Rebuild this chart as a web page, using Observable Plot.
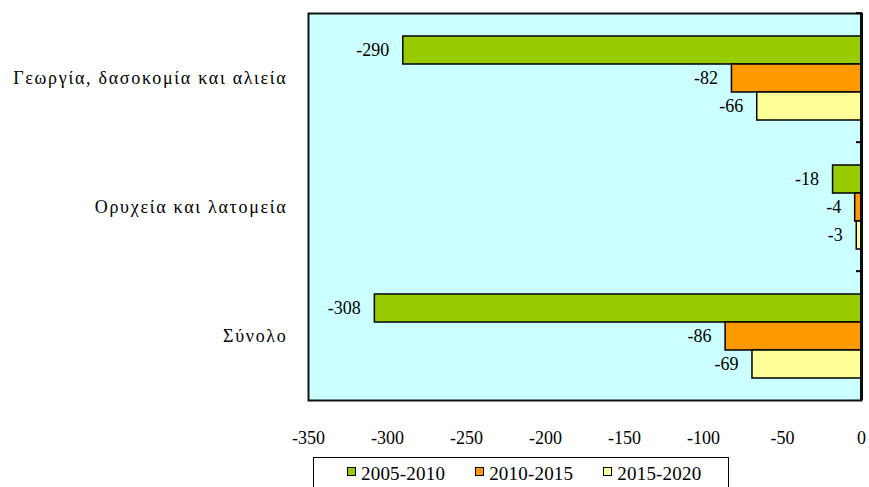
<!DOCTYPE html>
<html>
<head>
<meta charset="utf-8">
<script src="https://cdn.jsdelivr.net/npm/d3@7"></script>
<script src="https://cdn.jsdelivr.net/npm/@observablehq/plot@0.6"></script>
<style>
  html, body { margin: 0; padding: 0; background: #fff; overflow: hidden; }
  #wrap { position: relative; width: 869px; height: 487px; font-family: "Liberation Serif", "DejaVu Serif", serif; }
  #chart svg, #chart svg text { font-family: "Liberation Serif", "DejaVu Serif", serif !important; }
  #chart [aria-label="fy-axis tick label"] text { letter-spacing: 1.7px; }
  #legend {
    position: absolute; left: 313px; top: 457px; width: 416px; height: 40px;
    border: 1.5px solid #000; background: #fff; box-sizing: border-box;
    display: flex; align-items: flex-start; padding-top: 5px; padding-left: 33px;
    font-size: 19px; color: #000; white-space: nowrap;
  }
  .item { display: flex; align-items: center; margin-right: 30px; letter-spacing: 0.2px; flex-shrink: 0; white-space: nowrap; }
  .item:last-child { margin-right: 0; }
  .sw { width: 7px; height: 7px; border: 1.5px solid #000; margin-right: 5px; margin-top: -5px; flex-shrink: 0; }
</style>
</head>
<body>
<div id="wrap">
  <div id="chart"></div>
  <div id="legend"></div>
</div>
<script>
const categories = ["Γεωργία, δασοκομία και αλιεία", "Ορυχεία και λατομεία", "Σύνολο"];
const seriesNames = ["2005-2010", "2010-2015", "2015-2020"];
const seriesColors = ["#99cc00", "#ff9900", "#ffff99"];
const values2005_2010 = [-290, -18, -308];
const values2010_2015 = [-82, -4, -86];
const values2015_2020 = [-66, -3, -69];
const xTicks = [-350, -300, -250, -200, -150, -100, -50, 0];

const allValues = [values2005_2010, values2010_2015, values2015_2020];
const data = [];
categories.forEach((c, ci) => {
  seriesNames.forEach((s, si) => {
    data.push({category: c, series: s, value: allValues[si][ci]});
  });
});

const W = 869, H = 457, mT = 12, mB = 56;
const facetH = (H - mT - mB) / categories.length;

const chart = Plot.plot({
  width: W,
  height: H,
  marginLeft: 308,
  marginRight: 8,
  marginTop: mT,
  marginBottom: mB,
  style: {fontFamily: "'Liberation Serif', 'DejaVu Serif', serif", fontSize: "18px", color: "#000", background: "#fff"},
  x: {domain: [-350, 0], axis: null},
  y: {domain: seriesNames, paddingInner: 0, paddingOuter: 0.735, axis: null},
  fy: {domain: categories, padding: 0, axis: null},
  color: {domain: seriesNames, range: seriesColors},
  marks: [
    Plot.frame({fill: "#ccffff", facet: "super"}),
    Plot.barX(data, {x: "value", y: "series", fy: "category", fill: "series", stroke: "#000", strokeWidth: 1.5}),
    Plot.text(data, {x: "value", y: "series", fy: "category", text: d => String(d.value), textAnchor: "end", dx: -14, fill: "#000", fontSize: 18}),
    Plot.ruleX([0], {stroke: "#000", strokeWidth: 3}),
    Plot.frame({stroke: "#111", strokeWidth: 2, facet: "super"}),
    Plot.axisFy({anchor: "right", tickSize: -6, tickFormat: () => "", dy: -facetH / 2, stroke: "#000", strokeWidth: 2, label: null}),
    Plot.axisX(xTicks, {anchor: "bottom", tickSize: 0, tickPadding: 31, fontSize: 18, label: null, tickFormat: d => String(d)}),
    Plot.axisFy({anchor: "left", tickSize: 0, tickPadding: 21, fontSize: 18, label: null})
  ]
});
document.getElementById("chart").appendChild(chart);

const legend = document.getElementById("legend");
seriesNames.forEach((s, i) => {
  const item = document.createElement("div");
  item.className = "item";
  const sw = document.createElement("div");
  sw.className = "sw";
  sw.style.background = seriesColors[i];
  const t = document.createElement("span");
  t.textContent = s;
  item.appendChild(sw);
  item.appendChild(t);
  legend.appendChild(item);
});
</script>
</body>
</html>
